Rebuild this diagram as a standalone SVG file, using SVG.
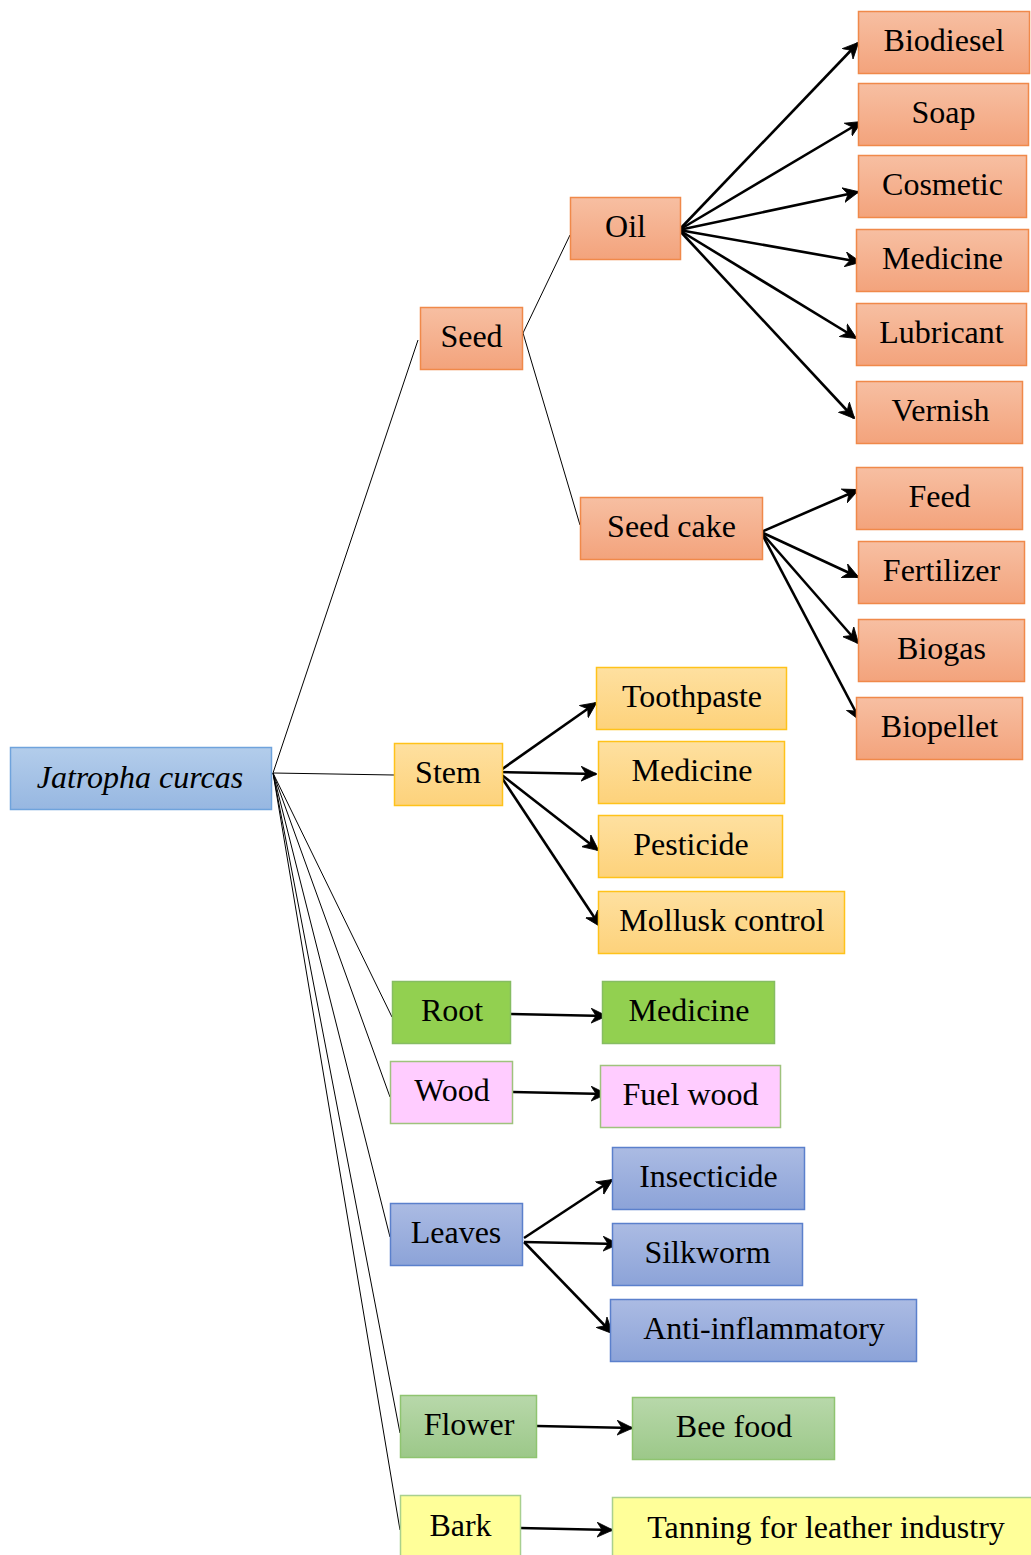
<svg xmlns="http://www.w3.org/2000/svg" width="1031" height="1555" viewBox="0 0 1031 1555">
  <defs>
    <linearGradient id="gBlue" x1="0" y1="0" x2="0" y2="1">
      <stop offset="0" stop-color="#b3cdeb"/>
      <stop offset="1" stop-color="#97b7e1"/>
    </linearGradient>
    <linearGradient id="gOrange" x1="0" y1="0" x2="0" y2="1">
      <stop offset="0" stop-color="#f7bfa2"/>
      <stop offset="1" stop-color="#f3a37c"/>
    </linearGradient>
    <linearGradient id="gYellow" x1="0" y1="0" x2="0" y2="1">
      <stop offset="0" stop-color="#fee0a0"/>
      <stop offset="1" stop-color="#fdd27b"/>
    </linearGradient>
    <linearGradient id="gPeri" x1="0" y1="0" x2="0" y2="1">
      <stop offset="0" stop-color="#abbbe3"/>
      <stop offset="1" stop-color="#8ca3d8"/>
    </linearGradient>
    <linearGradient id="gSage" x1="0" y1="0" x2="0" y2="1">
      <stop offset="0" stop-color="#b8d8aa"/>
      <stop offset="1" stop-color="#9cc889"/>
    </linearGradient>
    <marker id="arr" viewBox="0 0 16 16" refX="15" refY="8" markerWidth="16" markerHeight="16" markerUnits="userSpaceOnUse" orient="auto">
      <path d="M0,0.5 L16,8 L0,15.5 L5,8 Z" fill="#000" stroke="#000" stroke-width="0.8" stroke-linejoin="miter"/>
    </marker>
  </defs>
  <style>
    text { font-family: "Liberation Serif", "Times New Roman", serif; font-size: 32px; fill: #000; text-anchor: middle; }
    .orange { fill: url(#gOrange); stroke: #f0894a; stroke-width: 1.5; }
    .yellow { fill: url(#gYellow); stroke: #ffc21a; stroke-width: 1.5; }
    .blue { fill: url(#gBlue); stroke: #6fa3dc; stroke-width: 1.5; }
    .peri { fill: url(#gPeri); stroke: #5b80cc; stroke-width: 1.5; }
    .green { fill: #92d050; stroke: #86bd62; stroke-width: 1.5; }
    .pink { fill: #ffccff; stroke: #9fc27d; stroke-width: 1.5; }
    .sage { fill: url(#gSage); stroke: #8fc470; stroke-width: 1.5; }
    .lemon { fill: #ffff99; stroke: #a9d08e; stroke-width: 1.5; }
    .thin { stroke: #000; stroke-width: 1; fill: none; }
    .arrow { stroke: #000; stroke-width: 2.6; fill: none; marker-end: url(#arr); }
  </style>

  <!-- connectors -->
  <g id="connectors">
    <line class="thin" x1="273" y1="773" x2="418" y2="340"/>
    <line class="thin" x1="273" y1="773" x2="394" y2="775"/>
    <line class="thin" x1="273" y1="773" x2="392" y2="1017"/>
    <line class="thin" x1="273" y1="773" x2="390" y2="1097"/>
    <line class="thin" x1="273" y1="773" x2="390" y2="1237"/>
    <line class="thin" x1="273" y1="773" x2="400" y2="1433"/>
    <line class="thin" x1="273" y1="773" x2="400" y2="1530"/>
    <line class="thin" x1="523" y1="333" x2="570" y2="235"/>
    <line class="thin" x1="523" y1="333" x2="580" y2="525"/>

    <line class="arrow" x1="679" y1="230" x2="858" y2="43"/>
    <line class="arrow" x1="679" y1="230" x2="861" y2="122"/>
    <line class="arrow" x1="679" y1="230" x2="858" y2="192"/>
    <line class="arrow" x1="679" y1="230" x2="860" y2="262"/>
    <line class="arrow" x1="679" y1="230" x2="856" y2="338"/>
    <line class="arrow" x1="679" y1="230" x2="854" y2="418"/>

    <line class="arrow" x1="761" y1="532" x2="858" y2="490"/>
    <line class="arrow" x1="761" y1="532" x2="858" y2="577"/>
    <line class="arrow" x1="761" y1="532" x2="858" y2="643"/>
    <line class="arrow" x1="761" y1="532" x2="860" y2="720"/>

    <line class="arrow" x1="498" y1="772" x2="596" y2="703"/>
    <line class="arrow" x1="498" y1="772" x2="596" y2="774"/>
    <line class="arrow" x1="498" y1="772" x2="598" y2="850"/>
    <line class="arrow" x1="498" y1="772" x2="600" y2="926"/>

    <line class="arrow" x1="511" y1="1014" x2="606" y2="1016"/>
    <line class="arrow" x1="513" y1="1092" x2="606" y2="1094"/>

    <line class="arrow" x1="524" y1="1238" x2="612" y2="1180"/>
    <line class="arrow" x1="524" y1="1242" x2="618" y2="1244"/>
    <line class="arrow" x1="524" y1="1242" x2="612" y2="1333"/>

    <line class="arrow" x1="537" y1="1426" x2="632" y2="1428"/>
    <line class="arrow" x1="520" y1="1528" x2="612" y2="1530"/>
  </g>

  <!-- root -->
  <g id="jatropha">
    <rect class="blue" x="10.5" y="747.5" width="261" height="62"/>
    <text x="140" y="788" font-style="italic">Jatropha curcas</text>
  </g>

  <!-- seed branch -->
  <g id="seed">
    <rect class="orange" x="420.5" y="307.5" width="102" height="62"/>
    <text x="471.5" y="347">Seed</text>
  </g>
  <g id="oil">
    <rect class="orange" x="570.5" y="197.5" width="110" height="62"/>
    <text x="625.5" y="237">Oil</text>
  </g>
  <g id="seed-cake">
    <rect class="orange" x="580.5" y="497.5" width="182" height="62"/>
    <text x="671.5" y="537">Seed cake</text>
  </g>
  <g id="biodiesel">
    <rect class="orange" x="858.5" y="11.5" width="171" height="62"/>
    <text x="944" y="51">Biodiesel</text>
  </g>
  <g id="soap">
    <rect class="orange" x="858.5" y="83.5" width="170" height="62"/>
    <text x="943.5" y="123">Soap</text>
  </g>
  <g id="cosmetic">
    <rect class="orange" x="858.5" y="155.5" width="168" height="62"/>
    <text x="942.5" y="195">Cosmetic</text>
  </g>
  <g id="oil-medicine">
    <rect class="orange" x="856.5" y="229.5" width="172" height="62"/>
    <text x="942.5" y="269">Medicine</text>
  </g>
  <g id="lubricant">
    <rect class="orange" x="856.5" y="303.5" width="170" height="62"/>
    <text x="941.5" y="343">Lubricant</text>
  </g>
  <g id="vernish">
    <rect class="orange" x="856.5" y="381.5" width="166" height="62"/>
    <text x="940.5" y="421">Vernish</text>
  </g>
  <g id="feed">
    <rect class="orange" x="856.5" y="467.5" width="166" height="62"/>
    <text x="939.5" y="507">Feed</text>
  </g>
  <g id="fertilizer">
    <rect class="orange" x="858.5" y="541.5" width="166" height="62"/>
    <text x="941.5" y="581">Fertilizer</text>
  </g>
  <g id="biogas">
    <rect class="orange" x="858.5" y="619.5" width="166" height="62"/>
    <text x="941.5" y="659">Biogas</text>
  </g>
  <g id="biopellet">
    <rect class="orange" x="856.5" y="697.5" width="166" height="62"/>
    <text x="939.5" y="737">Biopellet</text>
  </g>

  <!-- stem branch -->
  <g id="stem">
    <rect class="yellow" x="394.5" y="743.5" width="108" height="62"/>
    <text x="448" y="783">Stem</text>
  </g>
  <g id="toothpaste">
    <rect class="yellow" x="596.5" y="667.5" width="190" height="62"/>
    <text x="692" y="707">Toothpaste</text>
  </g>
  <g id="stem-medicine">
    <rect class="yellow" x="598.5" y="741.5" width="186" height="62"/>
    <text x="692" y="781">Medicine</text>
  </g>
  <g id="pesticide">
    <rect class="yellow" x="598.5" y="815.5" width="184" height="62"/>
    <text x="691" y="855">Pesticide</text>
  </g>
  <g id="mollusk-control">
    <rect class="yellow" x="598.5" y="891.5" width="246" height="62"/>
    <text x="722" y="931">Mollusk control</text>
  </g>

  <!-- root branch -->
  <g id="root">
    <rect class="green" x="392.5" y="981.5" width="118" height="62"/>
    <text x="452" y="1021">Root</text>
  </g>
  <g id="root-medicine">
    <rect class="green" x="602.5" y="981.5" width="172" height="62"/>
    <text x="689" y="1021">Medicine</text>
  </g>

  <!-- wood branch -->
  <g id="wood">
    <rect class="pink" x="390.5" y="1061.5" width="122" height="62"/>
    <text x="452" y="1101">Wood</text>
  </g>
  <g id="fuel-wood">
    <rect class="pink" x="600.5" y="1065.5" width="180" height="62"/>
    <text x="690.5" y="1105">Fuel wood</text>
  </g>

  <!-- leaves branch -->
  <g id="leaves">
    <rect class="peri" x="390.5" y="1203.5" width="132" height="62"/>
    <text x="456" y="1243">Leaves</text>
  </g>
  <g id="insecticide">
    <rect class="peri" x="612.5" y="1147.5" width="192" height="62"/>
    <text x="708.5" y="1187">Insecticide</text>
  </g>
  <g id="silkworm">
    <rect class="peri" x="612.5" y="1223.5" width="190" height="62"/>
    <text x="707.5" y="1263">Silkworm</text>
  </g>
  <g id="anti-inflammatory">
    <rect class="peri" x="610.5" y="1299.5" width="306" height="62"/>
    <text x="764" y="1339">Anti-inflammatory</text>
  </g>

  <!-- flower branch -->
  <g id="flower">
    <rect class="sage" x="400.5" y="1395.5" width="136" height="62"/>
    <text x="469" y="1435">Flower</text>
  </g>
  <g id="bee-food">
    <rect class="sage" x="632.5" y="1397.5" width="202" height="62"/>
    <text x="734" y="1437">Bee food</text>
  </g>

  <!-- bark branch -->
  <g id="bark">
    <rect class="lemon" x="400.5" y="1495.5" width="120" height="62"/>
    <text x="460.5" y="1536">Bark</text>
  </g>
  <g id="tanning">
    <rect class="lemon" x="612.5" y="1497.5" width="420" height="62"/>
    <text x="826" y="1538">Tanning for leather industry</text>
  </g>
</svg>
